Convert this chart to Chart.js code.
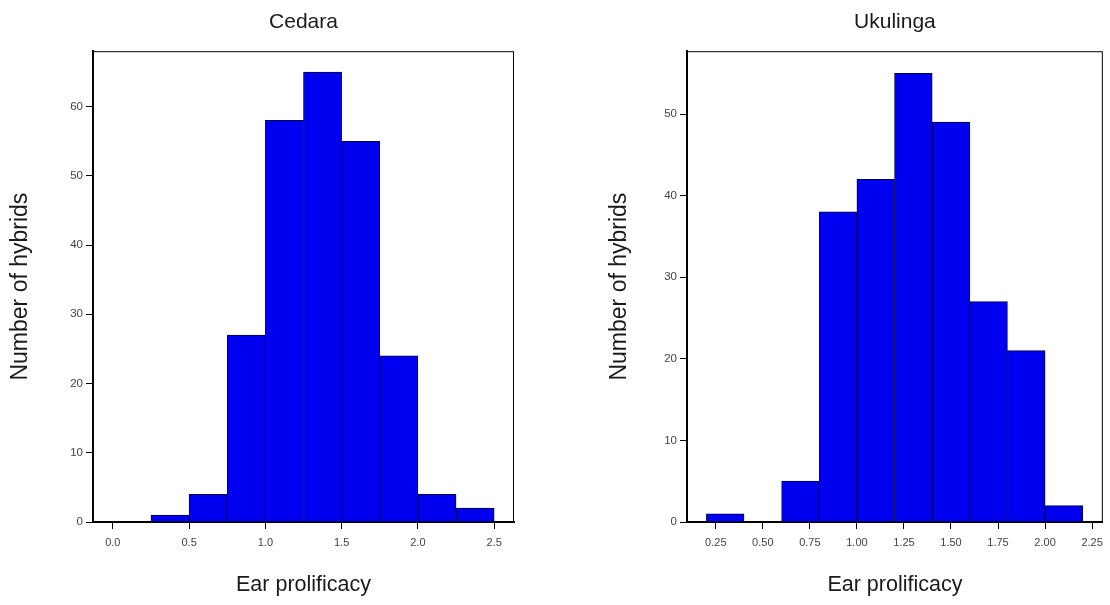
<!DOCTYPE html>
<html>
<head>
<meta charset="utf-8">
<script src="https://cdn.jsdelivr.net/npm/chart.js@4"></script>
<style>
  html, body { margin: 0; padding: 0; background: #fff; }
  #wrap { position: relative; width: 1110px; height: 605px; }
  .box { position: absolute; top: 0; width: 555px; height: 605px; }
</style>
</head>
<body>
<div id="wrap">
  <div class="box" style="left:0"><canvas id="c1" width="555" height="605"></canvas></div>
  <div class="box" style="left:555px"><canvas id="c2" width="555" height="605"></canvas></div>
</div>
<script>
// ---- Data ----
const cedaraBinCenters = [0.125, 0.375, 0.625, 0.875, 1.125, 1.375, 1.625, 1.875, 2.125, 2.375];
const cedaraCounts     = [0, 1, 4, 27, 58, 65, 55, 24, 4, 2];
const cedaraXTicks     = [0.0, 0.5, 1.0, 1.5, 2.0, 2.5];
const cedaraYTicks     = [0, 10, 20, 30, 40, 50, 60];

const ukulingaBinCenters = [0.3, 0.5, 0.7, 0.9, 1.1, 1.3, 1.5, 1.7, 1.9, 2.1];
const ukulingaCounts     = [1, 0, 5, 38, 42, 55, 49, 27, 21, 2];
const ukulingaXTicks     = [0.25, 0.50, 0.75, 1.00, 1.25, 1.50, 1.75, 2.00, 2.25];
const ukulingaYTicks     = [0, 10, 20, 30, 40, 50];

const FONT = "'Liberation Sans', Arial, Helvetica, sans-serif";

const framePlugin = {
  id: 'frame',
  afterDraw(chart) {
    const a = chart.chartArea, ctx = chart.ctx;
    ctx.save();
    ctx.strokeStyle = '#000';
    ctx.lineWidth = 1;
    ctx.strokeRect(a.left + 0.5, a.top + 0.5, a.right - a.left - 1, a.bottom - a.top);
    ctx.restore();
  }
};

function makeChart(id, cfg) {
  const data = cfg.centers.map((c, i) => ({ x: c, y: cfg.counts[i] }));
  return new Chart(document.getElementById(id), {
    type: 'bar',
    data: {
      datasets: [{
        data: data,
        backgroundColor: '#0000f0',
        borderColor: '#00004a',
        borderWidth: 1,
        borderSkipped: 'bottom',
        barPercentage: 1.0,
        categoryPercentage: 1.0
      }]
    },
    plugins: [framePlugin],
    options: {
      responsive: false,
      animation: false,
      events: [],
      layout: { padding: { left: 0, right: cfg.padRight, top: 0, bottom: 0 } },
      plugins: {
        legend: { display: false },
        tooltip: { enabled: false },
        title: {
          display: true,
          text: cfg.title,
          fullSize: false,
          color: '#1a1a1a',
          font: { family: FONT, size: 21, weight: 'normal' },
          padding: { top: 10, bottom: 16 }
        }
      },
      scales: {
        x: {
          type: 'linear',
          offset: false,
          min: cfg.xMin,
          max: cfg.xMax,
          afterBuildTicks: s => { s.ticks = cfg.xTicks.map(v => ({ value: v })); },
          afterFit: s => { s.height = 83; },
          ticks: {
            autoSkip: false,
            maxRotation: 0,
            padding: 7,
            color: '#444',
            font: { family: FONT, size: 11 },
            callback: v => Number(v).toFixed(cfg.xDec)
          },
          grid: { display: true, offset: false, drawOnChartArea: false, drawTicks: true, tickLength: 7, color: '#000', lineWidth: 1 },
          border: { display: true, color: '#000', width: 2 },
          title: {
            display: true,
            text: 'Ear prolificacy',
            color: '#1a1a1a',
            font: { family: FONT, size: 21.5 },
            padding: { top: 0, bottom: 7 }
          }
        },
        y: {
          type: 'linear',
          min: 0,
          max: cfg.yMax,
          afterBuildTicks: s => { s.ticks = cfg.yTicks.map(v => ({ value: v })); },
          afterFit: s => { s.width = cfg.yWidth; },
          ticks: {
            autoSkip: false,
            padding: 3,
            color: '#444',
            font: { family: FONT, size: 11.5 },
            callback: v => String(v)
          },
          grid: { display: true, offset: false, drawOnChartArea: false, drawTicks: true, tickLength: 7, color: '#000', lineWidth: 1 },
          border: { display: true, color: '#000', width: 2 },
          title: {
            display: true,
            text: 'Number of hybrids',
            color: '#1a1a1a',
            font: { family: FONT, size: 23 },
            padding: { top: cfg.yTitlePad, bottom: 0 }
          }
        }
      }
    }
  });
}

makeChart('c1', {
  title: 'Cedara',
  centers: cedaraBinCenters, counts: cedaraCounts,
  xTicks: cedaraXTicks, yTicks: cedaraYTicks, xDec: 1,
  xMin: -0.13, xMax: 2.63, yMax: 68,
  yWidth: 93, padRight: 41, yTitlePad: 7
});

makeChart('c2', {
  title: 'Ukulinga',
  centers: ukulingaBinCenters, counts: ukulingaCounts,
  xTicks: ukulingaXTicks, yTicks: ukulingaYTicks, xDec: 2,
  xMin: 0.097, xMax: 2.307, yMax: 57.7,
  yWidth: 132, padRight: 7, yTitlePad: 51
});
</script>
</body>
</html>
